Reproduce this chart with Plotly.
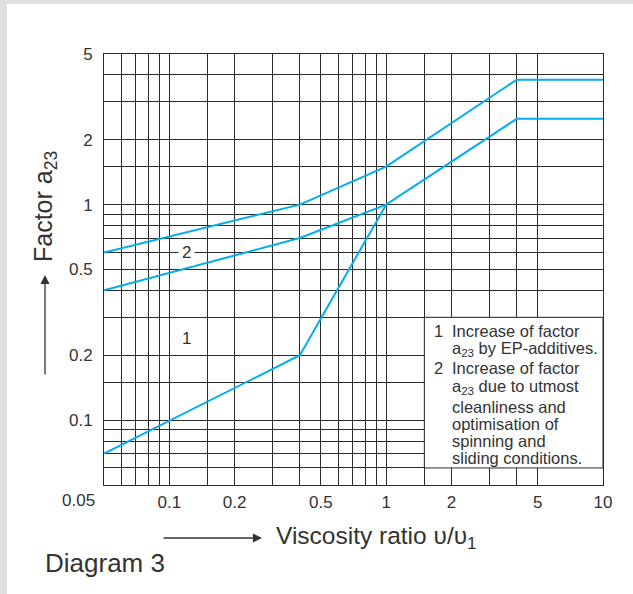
import math
import plotly.graph_objects as go

# ---------------- data ----------------
upper_x = [0.05, 0.4, 1, 4, 10]
upper_y = [0.6, 1.0, 1.5, 3.8, 3.8]
lower_x = [0.05, 0.4, 1, 4, 10]
lower_y = [0.4, 0.7, 1.0, 2.5, 2.5]
curve1_x = [0.05, 0.4, 1]
curve1_y = [0.07, 0.2, 1.0]

x_tick_vals = [0.1, 0.2, 0.5, 1, 2, 5, 10]
x_tick_text = ["0.1", "0.2", "0.5", "1", "2", "5", "10"]
y_tick_vals = [0.1, 0.2, 0.5, 1, 2, 5]
y_tick_text = ["0.1", "0.2", "0.5", "1", "2", "5"]
minor_grid_vals = [0.06, 0.07, 0.08, 0.09, 0.15, 0.3, 0.4, 0.6, 0.7, 0.8,
                   0.9, 1.5, 3, 4]

legend_lines = [
    ("1", "Increase of factor"),
    ("", "a<sub>23</sub> by EP-additives."),
    ("2", "Increase of factor"),
    ("", "a<sub>23</sub> due to utmost"),
    ("", "cleanliness and"),
    ("", "optimisation of"),
    ("", "spinning and"),
    ("", "sliding conditions."),
]
legend_line_px = [331, 349, 368, 387, 407, 424, 441, 458]

# ---------------- layout geometry ----------------
W, H = 633, 594
L, R, T, B = 104, 30, 54, 109
PW, PH = W - L - R, H - T - B
BLUE = "#00AEEF"
GRID = "#2a2a2a"
TXT = "#333333"
FONT = "Liberation Sans, Arial, Helvetica, sans-serif"


def px2paper(px, py):
    return (px - L) / PW, (H - B - py) / PH


fig = go.Figure()
for xs, ys in [(upper_x, upper_y), (lower_x, lower_y), (curve1_x, curve1_y)]:
    fig.add_trace(go.Scatter(x=xs, y=ys, mode="lines",
                             line=dict(color=BLUE, width=2), showlegend=False,
                             hoverinfo="skip"))

minor_cfg = dict(tickmode="array", tickvals=minor_grid_vals, showgrid=True,
                 gridcolor=GRID, gridwidth=1, ticks="")
fig.update_xaxes(type="log", range=[math.log10(0.05), 1],
                 tickmode="array", tickvals=x_tick_vals, ticktext=x_tick_text,
                 showgrid=True, gridcolor=GRID, gridwidth=1,
                 showline=True, linecolor=GRID, linewidth=1, mirror=True,
                 ticks="", ticklabelstandoff=2, zeroline=False,
                 minor=minor_cfg,
                 tickfont=dict(size=17, color=TXT, family=FONT))
fig.update_yaxes(type="log", range=[math.log10(0.05), math.log10(5)],
                 tickmode="array", tickvals=y_tick_vals, ticktext=y_tick_text,
                 showgrid=True, gridcolor=GRID, gridwidth=1,
                 showline=True, linecolor=GRID, linewidth=1, mirror=True,
                 ticks="", ticklabelstandoff=7, zeroline=False,
                 minor=minor_cfg,
                 tickfont=dict(size=17, color=TXT, family=FONT))

shapes = []
# gray page bands (top & left)
x0p, _ = px2paper(0, 0)
x7p, _ = px2paper(7, 0)
xRp, _ = px2paper(W, 0)
_, ytop = px2paper(0, 0)
_, y4 = px2paper(0, 4)
_, ybot = px2paper(0, H)
shapes.append(dict(type="rect", xref="paper", yref="paper", x0=x0p, x1=x7p,
                   y0=ybot, y1=ytop, fillcolor="#dedfe1", line=dict(width=0),
                   layer="below"))
shapes.append(dict(type="rect", xref="paper", yref="paper", x0=x0p, x1=xRp,
                   y0=y4, y1=ytop, fillcolor="#dedfe1", line=dict(width=0),
                   layer="below"))
# legend box (shape coords on log axes are data values)
shapes.append(dict(type="rect", xref="x", yref="y",
                   x0=1.5, x1=10, y0=0.06, y1=0.3,
                   fillcolor="white", line=dict(color=GRID, width=1),
                   layer="above"))

ann = []
# curve labels
ann.append(dict(x=math.log10(0.12), y=math.log10(0.6), xref="x", yref="y",
                text="2", showarrow=False, bgcolor="white", borderpad=3,
                font=dict(size=17, color=TXT, family=FONT)))
ann.append(dict(x=math.log10(0.12), y=math.log10(0.238), xref="x", yref="y",
                text="1", showarrow=False,
                font=dict(size=17, color=TXT, family=FONT)))
# legend text
for (num, txt), py in zip(legend_lines, legend_line_px):
    _, yp = px2paper(0, py)
    if num:
        xp, _ = px2paper(432, 0)
        ann.append(dict(x=xp, y=yp, xref="paper", yref="paper", text=num,
                        xanchor="left", yanchor="middle", showarrow=False,
                        font=dict(size=16.5, color=TXT, family=FONT)))
    xp, _ = px2paper(450, 0)
    ann.append(dict(x=xp, y=yp, xref="paper", yref="paper", text=txt,
                    xanchor="left", yanchor="middle", showarrow=False,
                    font=dict(size=16.5, color=TXT, family=FONT)))
# corner 0.05 label
xp, yp = px2paper(78, 500)
ann.append(dict(x=xp, y=yp, xref="paper", yref="paper", text="0.05",
                showarrow=False, xanchor="center", yanchor="middle",
                font=dict(size=17, color=TXT, family=FONT)))
# y axis title
xp, yp = px2paper(45, 207)
ann.append(dict(x=xp, y=yp, xref="paper", yref="paper",
                text="Factor a<sub>23</sub>", textangle=-90, showarrow=False,
                xanchor="center", yanchor="middle",
                font=dict(size=25, color=TXT, family=FONT)))
# y arrow
xp, yp = px2paper(45, 275)
ann.append(dict(x=xp, y=yp, xref="paper", yref="paper", text="",
                showarrow=True, ax=0, ay=101, arrowhead=2, arrowsize=1.4,
                arrowwidth=1.3, arrowcolor=TXT))
# x axis title
xp, yp = px2paper(274, 537)
ann.append(dict(x=xp, y=yp, xref="paper", yref="paper",
                text="Viscosity ratio \u03c5/\u03c5<sub>1</sub>", showarrow=False,
                xanchor="left", yanchor="middle",
                font=dict(size=24.5, color=TXT, family=FONT)))
# x arrow
xp, yp = px2paper(262, 538)
ann.append(dict(x=xp, y=yp, xref="paper", yref="paper", text="",
                showarrow=True, ax=-100, ay=0, arrowhead=2, arrowsize=1.4,
                arrowwidth=1.3, arrowcolor=TXT))
# Diagram 3
xp, yp = px2paper(43, 563)
ann.append(dict(x=xp, y=yp, xref="paper", yref="paper", text="Diagram 3",
                showarrow=False, xanchor="left", yanchor="middle",
                font=dict(size=26, color=TXT, family=FONT)))

fig.update_layout(width=W, height=H, margin=dict(l=L, r=R, t=T, b=B),
                  paper_bgcolor="white", plot_bgcolor="white",
                  shapes=shapes, annotations=ann, showlegend=False,
                  font=dict(family=FONT, color=TXT))

fig.write_html("out.html", config={"displayModeBar": False},
               post_script="document.body.style.margin='0';"
                           "document.body.style.padding='0';")
